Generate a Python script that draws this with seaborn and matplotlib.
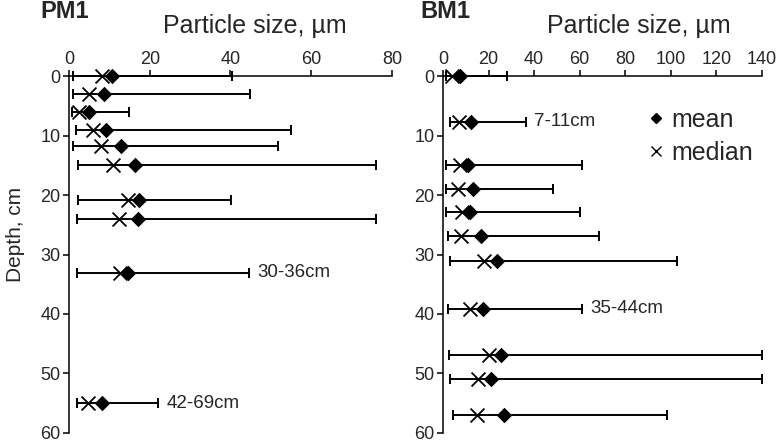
import matplotlib
matplotlib.use('Agg')
import matplotlib.pyplot as plt
from matplotlib.lines import Line2D
import numpy as np
import pandas as pd
import seaborn as sns

# PM1 core: depth (cm), mean, median, min, max particle size (um)
pm1_depth = [0, 3, 6, 9, 11.7, 15, 20.9, 24.1, 33.1, 55]
pm1_mean = [10.6, 8.7, 5.0, 9.2, 12.9, 16.3, 17.3, 17.1, 14.6, 8.2]
pm1_median = [8.2, 5.0, 2.5, 5.9, 7.9, 10.9, 14.6, 12.4, 12.6, 4.7]
pm1_min = [1.0, 1.0, 0.8, 1.7, 1.0, 2.2, 2.2, 2.0, 2.0, 2.0]
pm1_max = [40.5, 44.8, 14.9, 55.0, 51.7, 76.0, 40.1, 76.0, 44.6, 22.0]
pm1_notes = ['', '', '', '', '', '', '', '', '30-36cm', '42-69cm']

# BM1 core
bm1_depth = [0, 7.7, 15, 19, 22.9, 26.9, 31.1, 39.1, 46.9, 50.9, 56.9]
bm1_mean = [7.5, 12.3, 11.0, 13.2, 11.8, 16.7, 23.7, 17.6, 25.4, 21.1, 26.8]
bm1_median = [3.8, 7.0, 7.5, 6.6, 8.3, 7.9, 18.0, 11.8, 20.2, 15.4, 14.9]
bm1_min = [1.2, 3.1, 1.3, 1.3, 1.3, 2.2, 3.1, 2.2, 2.6, 3.1, 4.4]
bm1_max = [28.2, 36.4, 61.0, 48.3, 60.1, 68.5, 102.7, 61.0, 140, 140, 98.3]
bm1_notes = ['', '7-11cm', '', '', '', '', '', '35-44cm', '', '', '']

sns.set_style('ticks')
plt.rcParams['font.family'] = ['Liberation Sans', 'DejaVu Sans']

fig = plt.figure(figsize=(7.81, 4.43), dpi=100)
ax1 = fig.add_axes([0.0883, 0.0226, 0.4136, 0.8058])
ax2 = fig.add_axes([0.5672, 0.0226, 0.4085, 0.8058])


def draw_core(ax, depth, mean, median, lo, hi, notes, xmax, xticks):
    df = pd.DataFrame({'depth': depth, 'mean': mean, 'median': median,
                       'lo': lo, 'hi': hi, 'note': notes})
    err = [df['mean'] - df['lo'], df['hi'] - df['mean']]
    ax.errorbar(df['mean'], df['depth'], xerr=err, fmt='none', ecolor='black',
                elinewidth=1.4, capsize=3.6, capthick=1.4, clip_on=False, zorder=2)
    sns.scatterplot(data=df, x='median', y='depth', marker='x', color='black',
                    s=100, linewidth=1.3, ax=ax, clip_on=False, zorder=3)
    sns.scatterplot(data=df, x='mean', y='depth', marker='D', color='black',
                    s=62, linewidth=0, ax=ax, clip_on=False, zorder=4)
    for _, r in df.iterrows():
        if r['note']:
            ax.annotate(r['note'], xy=(r['hi'], r['depth']), xytext=(6, 0),
                        textcoords='offset points', va='center', ha='left',
                        fontsize=13.5)
    ax.set_xlim(0, xmax)
    ax.set_ylim(60, 0)
    ax.set_xticks(xticks)
    ax.set_yticks(range(0, 61, 10))
    ax.xaxis.tick_top()
    ax.xaxis.set_label_position('top')
    ax.set_xlabel('')
    ax.set_ylabel('')
    for side in ['right', 'bottom']:
        ax.spines[side].set_visible(False)
    for side in ['left', 'top']:
        ax.spines[side].set_linewidth(1.1)
        ax.spines[side].set_color('black')
    ax.tick_params(axis='both', direction='out', length=4, width=1.1,
                   labelsize=13, color='black', pad=2)


draw_core(ax1, pm1_depth, pm1_mean, pm1_median, pm1_min, pm1_max, pm1_notes,
          80, range(0, 81, 20))
draw_core(ax2, bm1_depth, bm1_mean, bm1_median, bm1_min, bm1_max, bm1_notes,
          140, range(0, 141, 20))

fig.text(40 / 781, 1 - 18 / 443, 'PM1', fontsize=17, fontweight='bold',
         ha='left', va='baseline')
fig.text(420 / 781, 1 - 18 / 443, 'BM1', fontsize=17, fontweight='bold',
         ha='left', va='baseline')
fig.text(163 / 781, 1 - 33 / 443, 'Particle size, \u00b5m', fontsize=18,
         ha='left', va='baseline')
fig.text(547 / 781, 1 - 33 / 443, 'Particle size, \u00b5m', fontsize=18,
         ha='left', va='baseline')
fig.text(16 / 781, 1 - 234 / 443, 'Depth, cm', fontsize=15, rotation=90,
         ha='center', va='center')

handles = [Line2D([], [], marker='D', color='black', linestyle='none', markersize=5.6),
           Line2D([], [], marker='x', color='black', linestyle='none', markersize=7,
                  markeredgewidth=1.0)]
ax2.legend(handles, ['mean', 'median'], loc='upper left', bbox_to_anchor=(0.645, 0.91),
           frameon=False, fontsize=18, handlelength=0.6, handletextpad=0.3,
           labelspacing=0.35, borderpad=0, borderaxespad=0)

fig.savefig('out.png', dpi=100)
